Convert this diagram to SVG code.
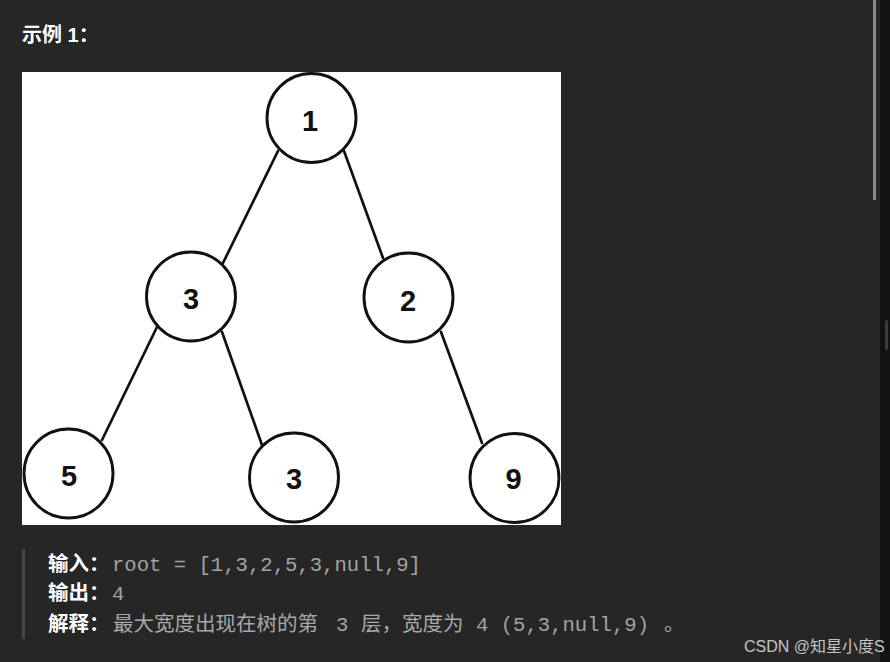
<svg xmlns="http://www.w3.org/2000/svg" width="890" height="662" viewBox="0 0 890 662">
<style>
.bg{fill:#262626}
.node circle{fill:#fff;stroke:#111;stroke-width:2.9}
.node text{font-family:"Liberation Sans",Arial,sans-serif;font-weight:bold;font-size:29px;fill:#111;text-anchor:middle}
.edges line{stroke:#111;stroke-width:2.7;stroke-linecap:round}
.title{font-family:"Liberation Sans","Noto Sans CJK SC",sans-serif;font-weight:bold;font-size:20px;fill:#fff}
.lbl{font-family:"Liberation Sans","Noto Sans CJK SC",sans-serif;font-weight:bold;font-size:20.5px;fill:#fff}
.cjk{font-family:"Noto Sans CJK SC",sans-serif;font-size:20.5px;fill:#a8a8a8}
.mono{font-family:"Liberation Mono","DejaVu Sans Mono",monospace;font-size:20.6px;fill:#a3a3a3}
.wm{font-family:"Liberation Sans","Noto Sans CJK SC",sans-serif;font-size:16px;fill:#c4c4c4}
</style>
<rect class="bg" x="0" y="0" width="890" height="662"/>
<rect x="880" y="0" width="10" height="662" fill="#121212"/>
<rect x="873" y="0" width="3" height="200" fill="#8c8c8c"/>
<rect x="885" y="320" width="3" height="30" rx="1.5" fill="#3c3c3c"/>
<text class="title" x="22" y="42">示例 1：</text>
<rect x="22" y="72" width="539" height="453" fill="#fff"/>
<g class="edges" id="edges">
<line x1="278" y1="151" x2="223" y2="263"/>
<line x1="344" y1="151" x2="383" y2="258"/>
<line x1="157" y1="327" x2="102" y2="440"/>
<line x1="222" y1="332" x2="262" y2="445"/>
<line x1="441" y1="332" x2="482" y2="443"/>
</g>
<g class="node" id="n1"><circle cx="311.5" cy="118" r="44.5"/><text x="310" y="130.5">1</text></g>
<g class="node" id="n3a"><circle cx="191" cy="296.5" r="44.5"/><text x="191" y="308.5">3</text></g>
<g class="node" id="n2"><circle cx="408.5" cy="297.5" r="44.5"/><text x="408" y="310.5">2</text></g>
<g class="node" id="n5"><circle cx="68.5" cy="473.5" r="44.5"/><text x="69" y="485.5">5</text></g>
<g class="node" id="n3b"><circle cx="294" cy="477.5" r="44.5"/><text x="294" y="488.5">3</text></g>
<g class="node" id="n9"><circle cx="514.5" cy="478" r="44.5"/><text x="513.5" y="488.5">9</text></g>
<rect x="22" y="549" width="3" height="90" fill="#464646"/>
<text class="lbl" x="48" y="571">输入：</text>
<text class="mono" x="112" y="571">root = [1,3,2,5,3,null,9]</text>
<text class="lbl" x="48" y="600">输出：</text>
<text class="mono" x="112" y="600">4</text>
<text class="lbl" x="48" y="631">解释：</text>
<text class="cjk" x="113" y="631">最大宽度出现在树的第</text>
<text class="mono" x="336" y="631">3</text>
<text class="cjk" x="361" y="631">层，宽度为</text>
<text class="mono" x="476" y="631">4 (5,3,null,9)</text>
<text class="cjk" x="664" y="631">。</text>
<text class="wm" x="744" y="652">CSDN @知星小度S</text>
</svg>
